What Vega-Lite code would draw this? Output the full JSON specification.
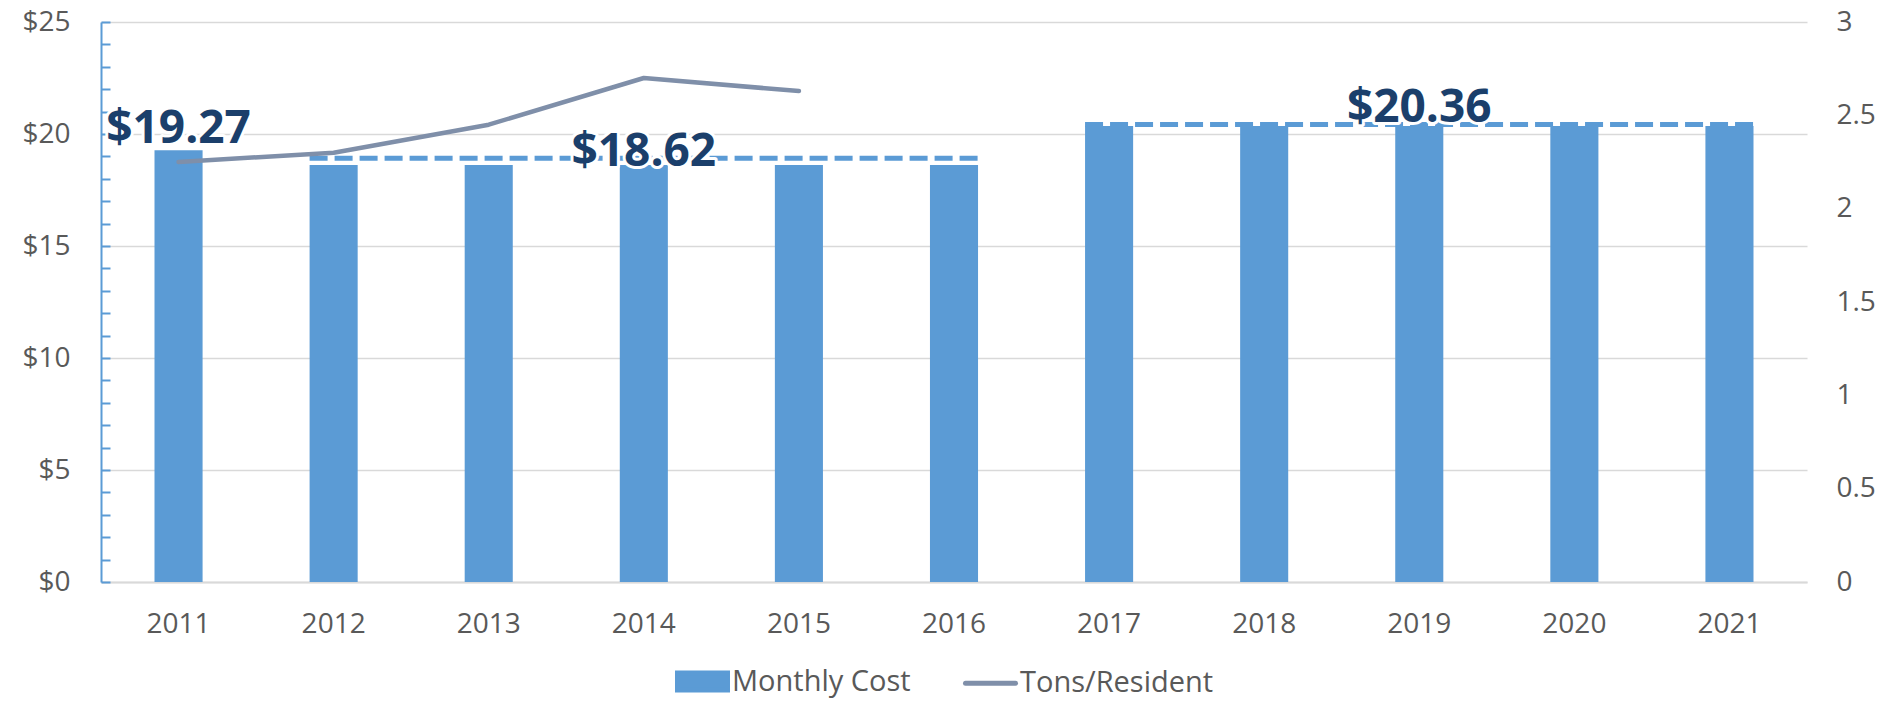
{
  "$schema": "https://vega.github.io/schema/vega-lite/v6.json",
  "width": 1706,
  "height": 560,
  "autosize": {"type": "none"},
  "padding": {"left": 101, "top": 22, "right": 86, "bottom": 119},
  "background": "white",
  "config": {
    "view": {"stroke": null},
    "font": "Open Sans",
    "axis": {"labelFont": "Open Sans", "labelColor": "#595959", "labelFontSize": 28}
  },
  "datasets": {
    "costs": [
      {"year": "2011", "cost": 19.27, "tons": 2.25},
      {"year": "2012", "cost": 18.62, "tons": 2.30},
      {"year": "2013", "cost": 18.62, "tons": 2.45},
      {"year": "2014", "cost": 18.62, "tons": 2.70},
      {"year": "2015", "cost": 18.62, "tons": 2.63},
      {"year": "2016", "cost": 18.62},
      {"year": "2017", "cost": 20.36},
      {"year": "2018", "cost": 20.36},
      {"year": "2019", "cost": 20.36},
      {"year": "2020", "cost": 20.36},
      {"year": "2021", "cost": 20.36}
    ],
    "avg": [
      {"start": "2012", "end": "2016", "value": 18.92},
      {"start": "2017", "end": "2021", "value": 20.42}
    ],
    "labels": [
      {"year": "2011", "value": 19.62, "label": "$19.27"},
      {"year": "2014", "value": 18.55, "label": "$18.62"},
      {"year": "2019", "value": 20.52, "label": "$20.36"}
    ]
  },
  "layer": [
    {
      "layer": [
        {
          "data": {"name": "costs"},
          "mark": {"type": "bar"},
          "encoding": {
            "x": {
              "field": "year", "type": "ordinal",
              "scale": {"paddingInner": 0.69, "paddingOuter": 0.345},
              "axis": {"title": null, "labelAngle": 0, "ticks": false, "domainColor": "#D9D9D9", "domainWidth": 2, "labelPadding": 28, "grid": false}
            },
            "y": {
              "field": "cost", "type": "quantitative",
              "scale": {"domain": [0, 25], "nice": false},
              "axis": {
                "title": null,
                "values": [0,1,2,3,4,5,6,7,8,9,10,11,12,13,14,15,16,17,18,19,20,21,22,23,24,25],
                "labelExpr": "datum.value % 5 === 0 ? '$' + datum.value : ''",
                "labelOverlap": false,
                "grid": true,
                "gridColor": "#D9D9D9",
                "gridWidth": 1.5,
                "gridOpacity": {"condition": {"test": "datum.value % 5 === 0", "value": 1}, "value": 0},
                "domainColor": "#5B9BD5",
                "domainWidth": 2,
                "tickColor": "#5B9BD5",
                "tickWidth": 2,
                "tickSize": -9,
                "labelPadding": 40
              }
            },
            "color": {
              "datum": "Monthly Cost",
              "type": "nominal",
              "scale": {"domain": ["Monthly Cost", "Tons/Resident"], "range": ["#5B9BD5", "#7F8FA9"]},
              "legend": {
                "title": null,
                "orient": "none",
                "legendX": 574,
                "legendY": 632,
                "direction": "horizontal",
                "symbolSize": 2500,
                "labelFontSize": 29,
                "labelColor": "#595959",
                "labelFont": "Open Sans",
                "labelLimit": 500,
                "columnPadding": 44,
                "labelOffset": 2,
                "encode": {
                  "symbols": {
                    "update": {
                      "shape": {"signal": "datum.value === 'Monthly Cost' ? 'M-1,-0.34H1V0.34H-1Z' : 'M-1,0H1'"},
                      "fill": {"signal": "datum.value === 'Monthly Cost' ? '#5B9BD5' : 'transparent'"},
                      "stroke": {"signal": "datum.value === 'Monthly Cost' ? 'transparent' : '#7F8FA9'"},
                      "strokeWidth": {"value": 5},
                      "strokeCap": {"value": "round"},
                      "opacity": {"value": 1}
                    }
                  }
                }
              }
            }
          }
        },
        {
          "data": {"name": "avg"},
          "mark": {"type": "rule", "color": "#5B9BD5", "strokeWidth": 5, "strokeDash": [18, 7]},
          "encoding": {
            "x": {"field": "start", "type": "ordinal", "bandPosition": 0},
            "x2": {"field": "end", "bandPosition": 1},
            "y": {
              "field": "value", "type": "quantitative",
              "axis": {
                "title": null,
                "values": [0,1,2,3,4,5,6,7,8,9,10,11,12,13,14,15,16,17,18,19,20,21,22,23,24,25],
                "labelExpr": "datum.value % 5 === 0 ? '$' + datum.value : ''",
                "labelOverlap": false,
                "grid": true,
                "gridColor": "#D9D9D9",
                "gridWidth": 1.5,
                "gridOpacity": {"condition": {"test": "datum.value % 5 === 0", "value": 1}, "value": 0},
                "domainColor": "#5B9BD5",
                "domainWidth": 2,
                "tickColor": "#5B9BD5",
                "tickWidth": 2,
                "tickSize": -9,
                "labelPadding": 40
              }
            }
          }
        },
        {
          "data": {"name": "labels"},
          "mark": {"type": "text", "fontSize": 46, "fontWeight": "bold", "font": "Open Sans", "color": "white", "stroke": "white", "strokeWidth": 6, "strokeJoin": "round", "baseline": "alphabetic"},
          "encoding": {
            "x": {"field": "year", "type": "ordinal"},
            "y": {
              "field": "value", "type": "quantitative",
              "axis": {
                "title": null,
                "values": [0,1,2,3,4,5,6,7,8,9,10,11,12,13,14,15,16,17,18,19,20,21,22,23,24,25],
                "labelExpr": "datum.value % 5 === 0 ? '$' + datum.value : ''",
                "labelOverlap": false,
                "grid": true,
                "gridColor": "#D9D9D9",
                "gridWidth": 1.5,
                "gridOpacity": {"condition": {"test": "datum.value % 5 === 0", "value": 1}, "value": 0},
                "domainColor": "#5B9BD5",
                "domainWidth": 2,
                "tickColor": "#5B9BD5",
                "tickWidth": 2,
                "tickSize": -9,
                "labelPadding": 40
              }
            },
            "text": {"field": "label"}
          }
        },
        {
          "data": {"name": "labels"},
          "mark": {"type": "text", "fontSize": 46, "fontWeight": "bold", "font": "Open Sans", "color": "#1B3F6B", "baseline": "alphabetic"},
          "encoding": {
            "x": {"field": "year", "type": "ordinal"},
            "y": {
              "field": "value", "type": "quantitative",
              "axis": {
                "title": null,
                "values": [0,1,2,3,4,5,6,7,8,9,10,11,12,13,14,15,16,17,18,19,20,21,22,23,24,25],
                "labelExpr": "datum.value % 5 === 0 ? '$' + datum.value : ''",
                "labelOverlap": false,
                "grid": true,
                "gridColor": "#D9D9D9",
                "gridWidth": 1.5,
                "gridOpacity": {"condition": {"test": "datum.value % 5 === 0", "value": 1}, "value": 0},
                "domainColor": "#5B9BD5",
                "domainWidth": 2,
                "tickColor": "#5B9BD5",
                "tickWidth": 2,
                "tickSize": -9,
                "labelPadding": 40
              }
            },
            "text": {"field": "label"}
          }
        }
      ]
    },
    {
      "data": {"name": "costs"},
      "transform": [{"filter": "datum.tons != null"}],
      "mark": {"type": "line", "strokeWidth": 4.5, "strokeCap": "round", "strokeJoin": "round"},
      "encoding": {
        "x": {"field": "year", "type": "ordinal"},
        "y": {
          "field": "tons", "type": "quantitative",
          "scale": {"domain": [0, 3], "nice": false},
          "axis": {"title": null, "orient": "right", "values": [0, 0.5, 1, 1.5, 2, 2.5, 3], "format": "~g", "grid": false, "ticks": false, "domain": false, "labelPadding": 29}
        },
        "color": {"datum": "Tons/Resident", "type": "nominal"}
      }
    }
  ],
  "resolve": {"scale": {"y": "independent"}}
}
